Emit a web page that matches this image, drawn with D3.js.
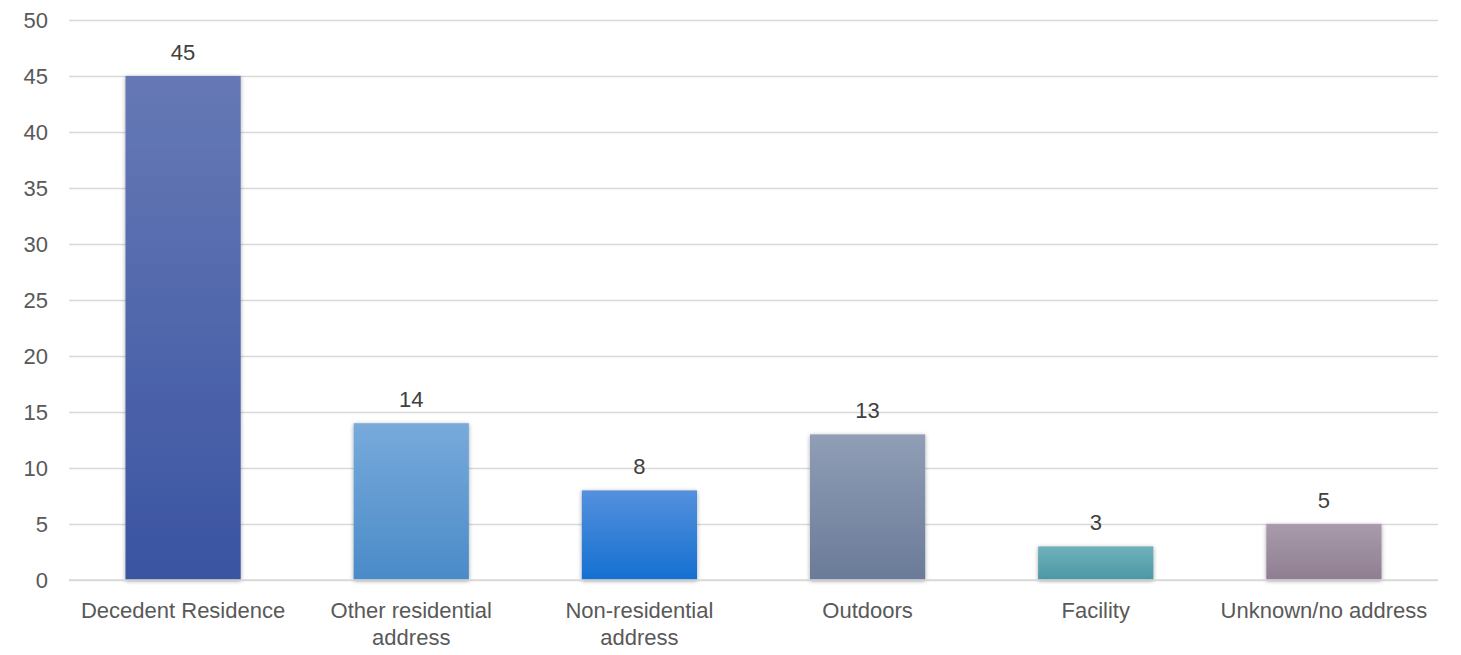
<!DOCTYPE html>
<html><head><meta charset="utf-8">
<script src="https://cdn.jsdelivr.net/npm/d3@7"></script>
<style>body{margin:0;background:#fff}svg{display:block}</style>
</head><body>
<svg id="c" width="1461" height="655"></svg>
<script>
const categories = ["Decedent Residence", "Other residential address", "Non-residential address", "Outdoors", "Facility", "Unknown/no address"];
const categoryLines = [["Decedent Residence"], ["Other residential", "address"], ["Non-residential", "address"], ["Outdoors"], ["Facility"], ["Unknown/no address"]];
const values = [45, 14, 8, 13, 3, 5];
const yTicks = [0, 5, 10, 15, 20, 25, 30, 35, 40, 45, 50];
const colorsTop = ["#6679b5", "#78aadb", "#5590dd", "#909eb6", "#70b1b9", "#a99bab"];
const colorsBottom = ["#3a54a2", "#4a8bc8", "#1470d0", "#6a7b98", "#4a98a4", "#8f7e91"];

const svg = d3.select("#c");
const margin = {left: 69, right: 23, top: 20, bottom: 75};
const W = 1461, H = 655;
const x = d3.scaleBand().domain(categories).range([margin.left, W - margin.right]).paddingInner(0.495).paddingOuter(0.2475);
const y = d3.scaleLinear().domain([0, 50]).range([H - margin.bottom, margin.top]);
const font = "'Liberation Sans', Arial, sans-serif";
const textColor = "#595959";
const fs = 22;

const defs = svg.append("defs");
categories.forEach((c, i) => {
  const g = defs.append("linearGradient").attr("id", "g" + i).attr("x1", 0).attr("y1", 0).attr("x2", 0).attr("y2", 1);
  g.append("stop").attr("offset", "0%").attr("stop-color", colorsTop[i]);
  g.append("stop").attr("offset", "100%").attr("stop-color", colorsBottom[i]);
});
const f = defs.append("filter").attr("id", "sh").attr("x", "-10%").attr("y", "-10%").attr("width", "120%").attr("height", "120%");
f.append("feDropShadow").attr("dx", 0).attr("dy", 1).attr("stdDeviation", 2).attr("flood-color", "#000").attr("flood-opacity", 0.35);

// grid
const yAxis = d3.axisLeft(y).tickValues(yTicks).tickSize(-(W - margin.right - margin.left)).tickPadding(21);
const ga = svg.append("g").attr("transform", `translate(${margin.left},0)`).call(yAxis);
ga.select(".domain").remove();
ga.selectAll(".tick line").attr("stroke", "#d9d9d9").attr("stroke-width", 1.5);
ga.selectAll(".tick text").attr("fill", textColor).attr("font-size", fs).attr("font-family", font);

// bars
svg.append("g").selectAll("rect").data(values).join("rect")
  .attr("x", (d, i) => x(categories[i]))
  .attr("y", d => y(d))
  .attr("width", x.bandwidth())
  .attr("height", d => y(0) - y(d))
  .attr("fill", (d, i) => `url(#g${i})`)
  .attr("filter", "url(#sh)");

// baseline
svg.append("line").attr("x1", margin.left).attr("x2", W - margin.right)
  .attr("y1", y(0)).attr("y2", y(0)).attr("stroke", "#d9d9d9").attr("stroke-width", 1.5);

// value labels
svg.append("g").selectAll("text").data(values).join("text")
  .attr("x", (d, i) => x(categories[i]) + x.bandwidth() / 2)
  .attr("y", d => y(d) - 16)
  .attr("text-anchor", "middle")
  .attr("fill", "#404040").attr("font-size", fs).attr("font-family", font)
  .text(d => d);

// category labels
const cl = svg.append("g").selectAll("text").data(categories).join("text")
  .attr("x", c => x(c) + x.bandwidth() / 2)
  .attr("y", y(0) + 38)
  .attr("text-anchor", "middle")
  .attr("fill", textColor).attr("font-size", fs).attr("font-family", font);
cl.each(function(c, i) {
  const t = d3.select(this);
  categoryLines[i].forEach((ln, j) => {
    t.append("tspan").attr("x", x(c) + x.bandwidth() / 2).attr("dy", j === 0 ? 0 : 27).text(ln);
  });
});
</script>
</body></html>
